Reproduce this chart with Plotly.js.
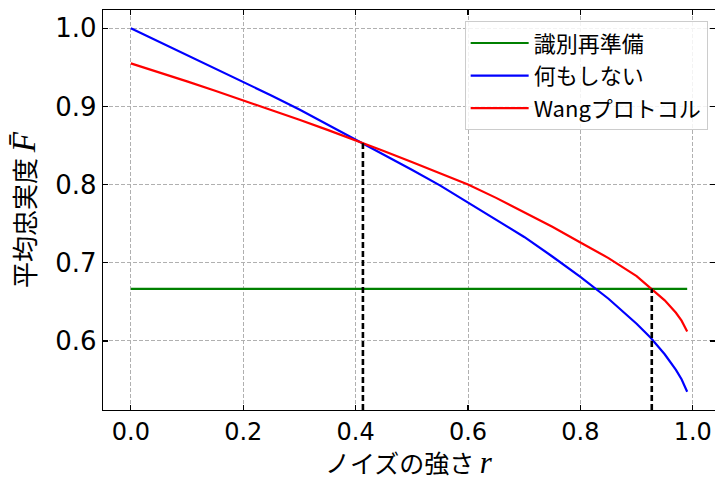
<!DOCTYPE html>
<html>
<head>
<meta charset="utf-8">
<script src="https://cdn.plot.ly/plotly-3.0.1.min.js"></script>
<style>html,body{margin:0;padding:0;background:#fff;}#chart{width:715px;height:479px;}</style>
</head>
<body>
<div id="chart"></div>
<script>
// Noise strength r
const rValues = [0, 0.05, 0.1, 0.15, 0.2, 0.25, 0.3, 0.35, 0.4, 0.45, 0.5, 0.55, 0.6, 0.65, 0.7, 0.75, 0.8, 0.85, 0.9, 0.925, 0.95, 0.97, 0.98, 0.99];
// 何もしない (do nothing)
const noActionF = [1.000, 0.983, 0.966, 0.949, 0.931, 0.914, 0.896, 0.877, 0.858, 0.839, 0.819, 0.799, 0.777, 0.755, 0.733, 0.708, 0.682, 0.654, 0.622, 0.604, 0.583, 0.563, 0.551, 0.535];
// Wangプロトコル
const wangF = [0.955, 0.944, 0.932, 0.920, 0.908, 0.896, 0.883, 0.870, 0.857, 0.843, 0.829, 0.815, 0.800, 0.783, 0.765, 0.746, 0.726, 0.706, 0.683, 0.668, 0.652, 0.636, 0.626, 0.612];
// 識別再準備 (constant)
const reprepR = [0, 0.99];
const reprepF = [0.6667, 0.6667];
// crossing points marked by dashed verticals
const crossR = [0.413, 0.927];
const crossF = [0.853, 0.667];
const yAxisMin = 0.5117;

const seriesNames = ['識別再準備', '何もしない', 'Wangプロトコル'];
const xTicks = [0, 0.2, 0.4, 0.6, 0.8, 1.0];
const yTicks = [0.6, 0.7, 0.8, 0.9, 1.0];
const xTitle = 'ノイズの強さ';
const yTitle = '平均忠実度';

const FONT = '"Noto Sans CJK JP", "Noto Sans", sans-serif';
const TICKFONT = '"DejaVu Sans", sans-serif';

const traces = [
  {x: reprepR, y: reprepF, mode: 'lines', name: seriesNames[0], legendgroup: 'a', line: {color: '#008000', width: 2.2}},
  {x: rValues, y: noActionF, mode: 'lines', name: seriesNames[1], legendgroup: 'b', line: {color: '#0000ff', width: 2.2}},
  {x: rValues, y: wangF, mode: 'lines', name: seriesNames[2], legendgroup: 'c', line: {color: '#ff0000', width: 2.2}}
];
crossR.forEach((cx, i) => {
  traces.push({x: [cx, cx], y: [yAxisMin, crossF[i]], mode: 'lines', showlegend: false, hoverinfo: 'skip',
    line: {color: '#000000', width: 2.6, dash: '6px,3px'}});
});

const layout = {
  width: 715, height: 479,
  margin: {l: 103, r: 0, t: 10, b: 69},
  paper_bgcolor: '#ffffff', plot_bgcolor: '#ffffff',
  font: {family: FONT, color: '#000000'},
  showlegend: true,
  legend: {x: 0.988, y: 0.972, xanchor: 'right', yanchor: 'top',
    bgcolor: 'rgba(255,255,255,0.85)', bordercolor: '#cccccc', borderwidth: 1,
    font: {family: FONT, size: 22, color: '#000'}, tracegroupgap: 1, itemwidth: 58},
  xaxis: {
    range: [-0.0495, 1.0395], tickvals: xTicks, tickformat: '.1f',
    ticks: 'inside', ticklen: 5, tickwidth: 1.3, tickcolor: '#000',
    showline: true, linecolor: '#000', linewidth: 1.3, mirror: 'allticks',
    showgrid: true, gridcolor: '#b0b0b0', gridwidth: 1, griddash: '4px,2px',
    zeroline: false,
    tickfont: {family: TICKFONT, size: 24, color: '#000'}
  },
  yaxis: {
    range: [0.5117, 1.0233], tickvals: yTicks, tickformat: '.1f',
    ticks: 'inside', ticklen: 5, tickwidth: 1.3, tickcolor: '#000',
    showline: true, linecolor: '#000', linewidth: 1.3, mirror: 'allticks',
    showgrid: true, gridcolor: '#b0b0b0', gridwidth: 1, griddash: '4px,2px',
    zeroline: false,
    tickfont: {family: TICKFONT, size: 26, color: '#000'},
    title: {text: yTitle + ' <i><span style="font-family:\'Liberation Serif\',serif;font-size:33px">F\u0304</span></i>',
      font: {family: FONT, size: 26, color: '#000'}, standoff: 12}
  },
  annotations: [{
    text: xTitle + ' <i><span style="font-family:\'Liberation Serif\',serif;font-size:31px">r</span></i>',
    xref: 'paper', yref: 'paper', x: 0.5, y: 0, xanchor: 'center', yanchor: 'middle',
    yshift: -52, showarrow: false, font: {family: FONT, size: 25, color: '#000'}
  }]
};

Plotly.newPlot('chart', traces, layout, {displayModeBar: false, staticPlot: true});
</script>
</body>
</html>
